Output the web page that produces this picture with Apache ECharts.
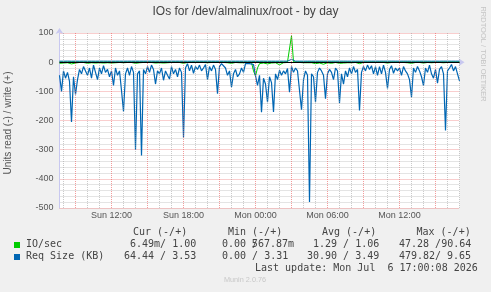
<!DOCTYPE html>
<html>
<head>
<meta charset="utf-8">
<title>IOs for /dev/almalinux/root - by day</title>
<script src="https://cdn.jsdelivr.net/npm/echarts@6/dist/echarts.min.js"></script>
<style>
  html, body { margin: 0; padding: 0; background: #f0f0f0; }
  #chart { width: 491px; height: 292px; }
</style>
</head>
<body>
<div id="chart"></div>
<script>
// time axis: 10 minute steps from Sun 07:40 to Mon 17:00
var startMinute = 7 * 60 + 40;
var stepMinutes = 10;
var pointCount = 201;
var timeLabels = [];
for (var k = 0; k < pointCount; k++) {
  var m = startMinute + k * stepMinutes;
  var day = m < 1440 ? 'Sun' : 'Mon';
  var hh = Math.floor((m % 1440) / 60), mm = m % 60;
  timeLabels.push(day + ' ' + (hh < 10 ? '0' : '') + hh + ':' + (mm < 10 ? '0' : '') + mm);
}

// IO/sec, read (drawn below 0) and write (drawn above 0)
var ioRead = [
  4,2,3,1,2,2,6,1,3,2,
  1,3,1,2,4,1,2,1,3,1,
  2,1,3,1,2,1,3,1,2,1,
  1,3,2,1,1,2,1,1,4,1,
  2,5,1,2,1,1,1,2,3,1,
  2,1,3,1,2,1,1,2,1,3,
  1,1,4,1,1,1,1,2,1,1,
  1,1,1,1,2,1,1,1,1,5,
  1,1,1,1,2,1,4,2,1,3,
  2,1,2,1,1,1,1,30,47.28,20,
  5,7,3,4,6,2,3,7,2,3,
  9,8,2,3,1,4,1,2,1,2,
  1,5,2,1,2,8,2,3,5,1,
  3,5,7,4,2,6,4,3,1,2,
  4,2,3,1,2,1,2,1,1,1,
  5,1,1,1,1,1,1,2,1,2,
  1,2,1,1,3,1,1,2,1,1,
  1,2,1,1,2,3,4,1,1,1,
  1,2,3,1,1,1,2,3,1,2,
  1,1,2,5,1,1,0.5,1,1,2,0.0065
];
var ioWrite = [
  1.2,1.0,0.9,1.1,1.0,0.8,1.3,1.0,1.1,0.9,
  1.0,1.1,0.9,1.0,1.2,0.8,1.0,1.1,0.9,1.0,
  1.1,1.0,0.7,1.0,1.2,1.0,0.9,1.1,1.0,0.9,
  1.0,1.2,1.1,0.9,1.0,0.8,1.0,1.1,1.3,1.0,
  0.9,1.2,1.0,1.1,0.9,1.0,0.8,1.0,1.1,1.0,
  1.0,0.9,1.1,1.0,1.2,1.0,0.9,1.0,1.1,0.9,
  1.0,1.1,1.2,0.9,0.6,1.0,0.9,1.1,1.0,0.8,
  0.9,1.0,1.1,0.57,1.0,0.9,1.0,1.1,0.9,1.2,
  1.0,0.8,0.9,1.0,1.1,1.0,1.2,0.9,1.0,1.1,
  1.0,0.9,1.1,0.8,0.7,0.9,0.8,1.3,1.5,1.2,
  1.1,1.3,1.0,1.2,1.1,1.0,1.2,1.3,1.0,1.1,
  1.4,1.2,1.0,1.1,1.3,2.0,90.64,1.5,1.1,1.0,
  1.0,1.2,1.1,1.0,0.9,1.4,1.0,1.1,1.2,1.0,
  1.1,1.0,1.2,1.1,0.9,1.0,1.1,1.0,0.9,1.0,
  1.2,1.0,1.1,0.9,1.0,1.1,1.0,0.9,1.0,1.1,
  1.1,1.0,0.9,1.0,0.8,1.0,0.9,1.1,1.0,0.9,
  1.0,1.1,0.9,1.0,1.2,1.0,0.9,1.0,1.1,1.0,
  0.9,1.0,1.1,1.0,0.9,1.1,1.2,1.0,0.9,1.0,
  1.0,1.1,1.0,0.9,1.0,0.8,1.0,1.1,1.0,0.9,
  1.0,0.9,1.1,1.0,1.0,0.9,1.0,1.1,0.9,1.0,1.0
];

// Req Size (KB), read (below 0) and write (above 0)
var reqRead = [
  45,100,30,55,35,66,205,50,111,60,
  25,40,15,30,45,20,55,10,35,60,
  20,40,12,35,25,50,30,80,20,45,
  30,97,169,40,20,45,15,35,300,40,
  30,320,25,40,15,35,10,25,75,30,
  40,20,62,30,45,58,15,40,25,50,
  20,35,258,20,5,30,10,38,15,25,
  10,30,20,8,60,15,30,10,25,108,
  15,5,10,20,45,30,86,40,25,50,
  40,20,35,5,3,5,2,8,46,80,
  45,172,55,75,137,50,70,171,40,60,
  28,45,30,40,22,103,15,35,20,30,
  25,163,60,30,45,479.82,40,50,137,35,
  20,30,45,125,40,25,35,60,20,30,
  140,40,75,30,50,20,40,15,35,25,
  166,35,15,30,10,25,12,40,15,45,
  15,40,10,35,90,25,12,38,20,30,
  20,45,15,30,40,60,120,20,35,15,
  30,50,80,20,35,10,40,55,25,72,
  25,15,40,234,30,20,8,30,15,40,64.44
];
var reqWrite = [
  3.5,3.6,3.4,3.5,3.7,3.5,3.4,3.6,3.5,3.5,
  3.4,3.5,3.6,3.5,3.4,3.5,3.5,3.6,3.4,3.5,
  3.5,3.4,3.6,3.5,3.5,3.7,3.4,3.5,3.5,3.6,
  3.5,3.5,3.4,3.6,3.5,3.4,3.5,3.6,3.5,3.4,
  3.5,3.6,3.5,3.4,3.5,3.5,3.6,3.4,3.5,3.5,
  3.6,3.5,3.4,3.5,3.5,3.6,3.5,3.4,3.5,3.6,
  3.5,3.4,3.5,3.6,3.31,3.5,3.4,3.5,3.6,3.5,
  3.5,3.4,3.5,3.4,3.6,3.5,3.5,3.4,3.5,3.6,
  3.4,3.5,3.5,3.6,3.4,3.5,3.5,3.6,3.5,3.4,
  3.5,3.6,3.5,3.4,3.5,3.4,3.5,3.6,3.5,3.5,
  3.4,3.5,3.6,3.5,3.4,3.5,3.5,3.6,3.4,3.5,
  3.5,3.4,3.6,3.5,3.5,4.2,9.65,3.8,3.5,3.4,
  3.5,3.6,3.4,3.5,3.5,3.6,3.5,3.4,3.5,3.6,
  3.5,3.4,3.5,3.6,3.5,3.4,3.5,3.5,3.6,3.4,
  3.5,3.5,3.6,3.4,3.5,3.5,3.4,3.6,3.5,3.5,
  3.4,3.5,3.6,3.5,3.5,3.4,3.5,3.6,3.5,3.4,
  3.5,3.5,3.6,3.4,3.5,3.5,3.6,3.4,3.5,3.5,
  3.4,3.5,3.6,3.5,3.5,3.4,3.5,3.6,3.5,3.4,
  3.5,3.5,3.6,3.4,3.5,3.5,3.4,3.6,3.5,3.5,
  3.4,3.5,3.6,3.5,3.5,3.4,3.5,3.6,3.5,3.5,3.53
];

// legend table texts
var statHeaders = ['Cur (-/+)', 'Min (-/+)', 'Avg (-/+)', 'Max (-/+)'];
var ioStats = ['6.49m/ 1.00', '0.00 /', '567.87m', '1.29 / 1.06', '47.28 /90.64'];
var reqStats = ['64.44 / 3.53', '0.00 / 3.31', '30.90 / 3.49', '479.82', '/ 9.65'];
var lastUpdate = 'Last update: Mon Jul  6 17:00:08 2026';

var GREEN = '#00cc00', BLUE = '#0066b3';
var SANS = '"Liberation Sans", Arial, sans-serif';
var MONO = '"DejaVu Sans Mono", monospace';
var MINOR = 'rgba(150,150,150,0.5)', MAJOR = 'rgba(235,90,90,0.6)', AXIS = '#c8c8f0';

// hour of day at category index, or -1 if not on a full hour
function hourAt(i) {
  var min = startMinute + i * stepMinutes;
  return min % 60 === 0 ? (min / 60) % 24 : -1;
}
function every6h(i) { var h = hourAt(i); return h >= 0 && h % 6 === 0; }

// vertical grid: gray every hour, red every 3 hours
var vGrid = [];
timeLabels.forEach(function (lab, i) {
  var h = hourAt(i);
  if (h < 0) return;
  vGrid.push({ xAxis: lab,
    lineStyle: { color: h % 3 === 0 ? MAJOR : MINOR, width: 1, type: [1, 1] } });
});

function lineSeries(name, values, sign, color, width, z) {
  return {
    name: name, type: 'line', silent: true, animation: false, z: z,
    showSymbol: false, symbol: 'none',
    data: values.map(function (v) { return sign * v; }),
    lineStyle: { color: color, width: width }, itemStyle: { color: color }
  };
}

function txt(text, x, y, font, align, color) {
  return { type: 'text', x: x, y: y, silent: true,
    style: { text: text, font: font, fill: color || '#444',
      align: align || 'left', verticalAlign: 'middle',
      textAlign: align || 'left', textVerticalAlign: 'middle' } };
}

var monoFont = '10px ' + MONO;
var chart = echarts.init(document.getElementById('chart'));
var series = [
  lineSeries('IO/sec read', ioRead, -1, GREEN, 1, 2),
  lineSeries('IO/sec write', ioWrite, 1, GREEN, 1, 3),
  lineSeries('Req Size read', reqRead, -1, BLUE, 1.2, 3),
  lineSeries('Req Size write', reqWrite, 1, BLUE, 1, 3)
];
series[0].markLine = {
  silent: true, symbol: 'none', animation: false, label: { show: false },
  data: vGrid
};
series[3].markLine = {
  silent: true, symbol: 'none', animation: false, label: { show: false },
  lineStyle: { color: '#000', width: 1, type: 'solid' },
  data: [{ yAxis: 0 }]
};

chart.setOption({
  backgroundColor: '#f0f0f0',
  animation: false,
  grid: { left: 59.5, top: 33, width: 400, height: 175, show: true,
    backgroundColor: '#ffffff', borderWidth: 0 },
  xAxis: {
    type: 'category', data: timeLabels, boundaryGap: false,
    axisLine: { show: true, lineStyle: { color: AXIS, width: 1 },
      symbol: ['none', 'arrow'], symbolSize: [6, 6], symbolOffset: [0, 5] },
    axisTick: { show: false },
    axisLabel: { interval: every6h, color: '#555', fontFamily: SANS, fontSize: 9, margin: 3 },
    splitLine: { show: false }
  },
  yAxis: {
    type: 'value', min: -500, max: 100, interval: 100,
    axisLine: { show: true, lineStyle: { color: AXIS, width: 1 },
      symbol: ['none', 'arrow'], symbolSize: [6, 6], symbolOffset: [0, 5] },
    axisTick: { show: false },
    axisLabel: { color: '#555', fontFamily: SANS, fontSize: 9, margin: 6 },
    splitLine: { show: true, lineStyle: { color: MAJOR, width: 1, type: [1, 1] } },
    minorTick: { show: false, splitNumber: 5 },
    minorSplitLine: { show: true, lineStyle: { color: MINOR, width: 1, type: [1, 1] } }
  },
  series: series,
  graphic: [
    txt('IOs for /dev/almalinux/root - by day', 245.5, 12, '12px ' + SANS, 'center', '#444'),
    Object.assign(txt('Units read (-) / write (+)', 8.5, 123, '10px ' + SANS, 'center', '#555'), { rotation: Math.PI / 2 }),
    Object.assign(txt('RRDTOOL / TOBI OETIKER', 483.5, 54, '7.5px ' + SANS, 'center', '#c4c4c4'), { rotation: -Math.PI / 2 }),
    txt(statHeaders[0], 133, 232.5, monoFont),
    txt(statHeaders[1], 228, 232.5, monoFont),
    txt(statHeaders[2], 322, 232.5, monoFont),
    txt(statHeaders[3], 416.5, 232.5, monoFont),
    { type: 'rect', silent: true, shape: { x: 14, y: 242, width: 6, height: 6 }, style: { fill: GREEN } },
    txt('IO/sec', 26, 244.7, monoFont),
    txt(ioStats[0], 130, 244.7, monoFont),
    txt(ioStats[1], 222, 244.7, monoFont),
    txt(ioStats[2], 294, 244.7, monoFont, 'right'),
    txt(ioStats[3], 313, 244.7, monoFont),
    txt(ioStats[4], 399, 244.7, monoFont),
    { type: 'rect', silent: true, shape: { x: 14, y: 254, width: 6, height: 6 }, style: { fill: BLUE } },
    txt('Req Size (KB)', 26, 256.7, monoFont),
    txt(reqStats[0], 124, 256.7, monoFont),
    txt(reqStats[1], 222, 256.7, monoFont),
    txt(reqStats[2], 307, 256.7, monoFont),
    txt(reqStats[3], 399, 256.7, monoFont),
    txt(reqStats[4], 471, 256.7, monoFont, 'right'),
    txt(lastUpdate, 255, 268.7, monoFont),
    txt('Munin 2.0.76', 245, 280, '7.3px ' + SANS, 'center', '#c8c8c8')
  ]
});
</script>
</body>
</html>
